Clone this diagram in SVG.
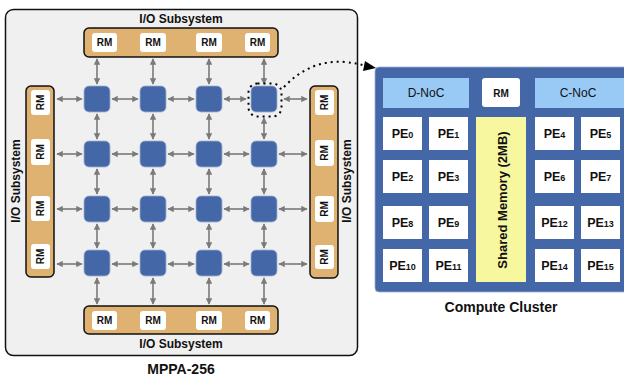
<svg xmlns="http://www.w3.org/2000/svg" width="624" height="377" viewBox="0 0 624 377">
<style>
text{font-family:"Liberation Sans",Arial,sans-serif;fill:#111}
.b{font-weight:bold}
.io{fill:#dfb271;stroke:#111;stroke-width:1.5}
.rm{fill:#fff;stroke:none}
.rmt{font-size:10px;font-weight:bold;text-anchor:middle}
.node{fill:#4467a8;stroke:#9fb0d0;stroke-width:0.8}
.lnk{stroke:#7a7a7a;stroke-width:1.6;fill:none;marker-start:url(#ah);marker-end:url(#ah)}
.pe{fill:#fff}
.pet{font-size:12.5px;font-weight:bold;text-anchor:middle}
.sub{font-size:9px}
.noc{fill:#99c9f5}
</style>
<defs>
<marker id="ah" viewBox="0 0 10 10" refX="9" refY="5" markerWidth="4" markerHeight="4" orient="auto-start-reverse" markerUnits="strokeWidth">
<path d="M0,0 L10,5 L0,10 z" fill="#7a7a7a"/>
</marker>
</defs>
<rect x="0" y="0" width="624" height="377" fill="#fff"/>
<g id="mppa">
<rect x="5.5" y="9.5" width="352" height="346" rx="8" fill="#f0f0f0" stroke="#111" stroke-width="1.5"/>
<text class="b" x="181" y="374" font-size="14" text-anchor="middle">MPPA-256</text>
</g>
<g id="io-top">
<text class="b" x="181" y="23" font-size="12" text-anchor="middle">I/O Subsystem</text>
<rect class="io" x="84" y="28" width="194" height="29" rx="5"/>
<rect class="rm" x="92" y="33" width="25" height="19" rx="3"/><text class="rmt" x="104.5" y="46">RM</text>
<rect class="rm" x="140" y="33" width="26" height="19" rx="3"/><text class="rmt" x="153" y="46">RM</text>
<rect class="rm" x="196" y="33" width="26" height="19" rx="3"/><text class="rmt" x="209" y="46">RM</text>
<rect class="rm" x="245" y="33" width="25" height="19" rx="3"/><text class="rmt" x="257.5" y="46">RM</text>
</g>
<g id="io-bottom">
<rect class="io" x="84" y="306" width="194" height="28" rx="5"/>
<rect class="rm" x="92" y="311" width="25" height="19" rx="3"/><text class="rmt" x="104.5" y="324">RM</text>
<rect class="rm" x="140" y="311" width="26" height="19" rx="3"/><text class="rmt" x="153" y="324">RM</text>
<rect class="rm" x="196" y="311" width="26" height="19" rx="3"/><text class="rmt" x="209" y="324">RM</text>
<rect class="rm" x="245" y="311" width="25" height="19" rx="3"/><text class="rmt" x="257.5" y="324">RM</text>
<text class="b" x="181" y="348" font-size="12" text-anchor="middle">I/O Subsystem</text>
</g>
<g id="io-left">
<rect class="io" x="26" y="86" width="28" height="191" rx="5"/>
<rect class="rm" x="31" y="90" width="19" height="25" rx="3"/><text class="rmt" transform="translate(44,102.5) rotate(-90)">RM</text>
<rect class="rm" x="31" y="139" width="19" height="26" rx="3"/><text class="rmt" transform="translate(44,152) rotate(-90)">RM</text>
<rect class="rm" x="31" y="196" width="19" height="25" rx="3"/><text class="rmt" transform="translate(44,208.5) rotate(-90)">RM</text>
<rect class="rm" x="31" y="244" width="19" height="25" rx="3"/><text class="rmt" transform="translate(44,256.5) rotate(-90)">RM</text>
<text class="b" transform="translate(19.5,181) rotate(-90)" font-size="12" text-anchor="middle">I/O Subsystem</text>
</g>
<g id="io-right">
<rect class="io" x="310" y="86" width="28" height="192" rx="5"/>
<rect class="rm" x="315" y="90" width="19" height="25" rx="3"/><text class="rmt" transform="translate(328,102.5) rotate(-90)">RM</text>
<rect class="rm" x="315" y="140" width="19" height="26" rx="3"/><text class="rmt" transform="translate(328,153) rotate(-90)">RM</text>
<rect class="rm" x="315" y="196" width="19" height="26" rx="3"/><text class="rmt" transform="translate(328,209) rotate(-90)">RM</text>
<rect class="rm" x="315" y="245" width="19" height="24" rx="3"/><text class="rmt" transform="translate(328,257) rotate(-90)">RM</text>
<text class="b" transform="translate(350.5,181) rotate(-90)" font-size="12" text-anchor="middle">I/O Subsystem</text>
</g>
<g id="connectors">
<line class="lnk" x1="97" y1="59" x2="97" y2="84"/><line class="lnk" x1="153" y1="59" x2="153" y2="84"/><line class="lnk" x1="209" y1="59" x2="209" y2="84"/><line class="lnk" x1="264" y1="59" x2="264" y2="84"/>
<line class="lnk" x1="97" y1="114" x2="97" y2="139"/><line class="lnk" x1="153" y1="114" x2="153" y2="139"/><line class="lnk" x1="209" y1="114" x2="209" y2="139"/><line class="lnk" x1="264" y1="118" x2="264" y2="139"/>
<line class="lnk" x1="97" y1="169" x2="97" y2="194"/><line class="lnk" x1="153" y1="169" x2="153" y2="194"/><line class="lnk" x1="209" y1="169" x2="209" y2="194"/><line class="lnk" x1="264" y1="169" x2="264" y2="194"/>
<line class="lnk" x1="97" y1="224" x2="97" y2="248"/><line class="lnk" x1="153" y1="224" x2="153" y2="248"/><line class="lnk" x1="209" y1="224" x2="209" y2="248"/><line class="lnk" x1="264" y1="224" x2="264" y2="248"/>
<line class="lnk" x1="97" y1="278" x2="97" y2="304"/><line class="lnk" x1="153" y1="278" x2="153" y2="304"/><line class="lnk" x1="209" y1="278" x2="209" y2="304"/><line class="lnk" x1="264" y1="278" x2="264" y2="304"/>
<line class="lnk" x1="57" y1="99" x2="82" y2="99"/><line class="lnk" x1="112" y1="99" x2="138" y2="99"/><line class="lnk" x1="168" y1="99" x2="194" y2="99"/><line class="lnk" x1="224" y1="99" x2="246" y2="99"/><line class="lnk" x1="284" y1="99" x2="307" y2="99"/>
<line class="lnk" x1="57" y1="154" x2="82" y2="154"/><line class="lnk" x1="112" y1="154" x2="138" y2="154"/><line class="lnk" x1="168" y1="154" x2="194" y2="154"/><line class="lnk" x1="224" y1="154" x2="249" y2="154"/><line class="lnk" x1="279" y1="154" x2="307" y2="154"/>
<line class="lnk" x1="57" y1="209" x2="82" y2="209"/><line class="lnk" x1="112" y1="209" x2="138" y2="209"/><line class="lnk" x1="168" y1="209" x2="194" y2="209"/><line class="lnk" x1="224" y1="209" x2="249" y2="209"/><line class="lnk" x1="279" y1="209" x2="307" y2="209"/>
<line class="lnk" x1="57" y1="264" x2="82" y2="264"/><line class="lnk" x1="112" y1="264" x2="138" y2="264"/><line class="lnk" x1="168" y1="264" x2="194" y2="264"/><line class="lnk" x1="224" y1="264" x2="249" y2="264"/><line class="lnk" x1="279" y1="264" x2="307" y2="264"/>
<rect x="248.5" y="83.5" width="33" height="33" rx="9" fill="none" stroke="#000" stroke-width="2" stroke-dasharray="2,4"/>
<path d="M284,87 C300,70 320,60 345,62 C355,63 360,64 366,66" fill="none" stroke="#000" stroke-width="2" stroke-dasharray="2,4"/>
<path d="M365,61 L376,68 L363,71 z" fill="#000"/>
</g>
<g id="grid-nodes">
<rect class="node" x="84" y="86" width="26" height="26" rx="5"/>
<rect class="node" x="140" y="86" width="26" height="26" rx="5"/>
<rect class="node" x="196" y="86" width="26" height="26" rx="5"/>
<rect class="node" x="251" y="86" width="26" height="26" rx="5"/>
<rect class="node" x="84" y="141" width="26" height="26" rx="5"/>
<rect class="node" x="140" y="141" width="26" height="26" rx="5"/>
<rect class="node" x="196" y="141" width="26" height="26" rx="5"/>
<rect class="node" x="251" y="141" width="26" height="26" rx="5"/>
<rect class="node" x="84" y="196" width="26" height="26" rx="5"/>
<rect class="node" x="140" y="196" width="26" height="26" rx="5"/>
<rect class="node" x="196" y="196" width="26" height="26" rx="5"/>
<rect class="node" x="251" y="196" width="26" height="26" rx="5"/>
<rect class="node" x="84" y="250" width="26" height="26" rx="5"/>
<rect class="node" x="140" y="250" width="26" height="26" rx="5"/>
<rect class="node" x="196" y="250" width="26" height="26" rx="5"/>
<rect class="node" x="251" y="250" width="26" height="26" rx="5"/>
</g>
<g id="cluster">
<rect x="375" y="67" width="260" height="225" rx="4" fill="#4467a8" stroke="#9fb0d0" stroke-width="0.8"/>
<rect class="noc" x="383" y="78" width="86" height="30"/>
<text x="426" y="97" font-size="12" text-anchor="middle">D-NoC</text>
<rect x="482" y="78" width="38" height="29" rx="3" fill="#fff"/>
<text class="rmt" x="501" y="97">RM</text>
<rect class="noc" x="535" y="78" width="89" height="30"/>
<text x="578" y="97" font-size="12" text-anchor="middle">C-NoC</text>
<rect x="476" y="117" width="50" height="165" fill="#f7f7a0"/>
<text class="b" transform="translate(506.5,200) rotate(-90)" font-size="13" text-anchor="middle">Shared Memory (2MB)</text>
<rect class="pe" x="383" y="117" width="39" height="33"/><text class="pet" x="402.5" y="138">PE<tspan class="sub">0</tspan></text>
<rect class="pe" x="429" y="117" width="39" height="33"/><text class="pet" x="448.5" y="138">PE<tspan class="sub">1</tspan></text>
<rect class="pe" x="535" y="117" width="39" height="33"/><text class="pet" x="554.5" y="138">PE<tspan class="sub">4</tspan></text>
<rect class="pe" x="581" y="117" width="39" height="33"/><text class="pet" x="600.5" y="138">PE<tspan class="sub">5</tspan></text>
<rect class="pe" x="383" y="160" width="39" height="33"/><text class="pet" x="402.5" y="181">PE<tspan class="sub">2</tspan></text>
<rect class="pe" x="429" y="160" width="39" height="33"/><text class="pet" x="448.5" y="181">PE<tspan class="sub">3</tspan></text>
<rect class="pe" x="535" y="160" width="39" height="33"/><text class="pet" x="554.5" y="181">PE<tspan class="sub">6</tspan></text>
<rect class="pe" x="581" y="160" width="39" height="33"/><text class="pet" x="600.5" y="181">PE<tspan class="sub">7</tspan></text>
<rect class="pe" x="383" y="206" width="39" height="33"/><text class="pet" x="402.5" y="227">PE<tspan class="sub">8</tspan></text>
<rect class="pe" x="429" y="206" width="39" height="33"/><text class="pet" x="448.5" y="227">PE<tspan class="sub">9</tspan></text>
<rect class="pe" x="535" y="206" width="39" height="33"/><text class="pet" x="554.5" y="227">PE<tspan class="sub">12</tspan></text>
<rect class="pe" x="581" y="206" width="39" height="33"/><text class="pet" x="600.5" y="227">PE<tspan class="sub">13</tspan></text>
<rect class="pe" x="383" y="249" width="39" height="33"/><text class="pet" x="402.5" y="270">PE<tspan class="sub">10</tspan></text>
<rect class="pe" x="429" y="249" width="39" height="33"/><text class="pet" x="448.5" y="270">PE<tspan class="sub">11</tspan></text>
<rect class="pe" x="535" y="249" width="39" height="33"/><text class="pet" x="554.5" y="270">PE<tspan class="sub">14</tspan></text>
<rect class="pe" x="581" y="249" width="39" height="33"/><text class="pet" x="600.5" y="270">PE<tspan class="sub">15</tspan></text>
<text class="b" x="501" y="312" font-size="14" text-anchor="middle">Compute Cluster</text>
</g>
</svg>
